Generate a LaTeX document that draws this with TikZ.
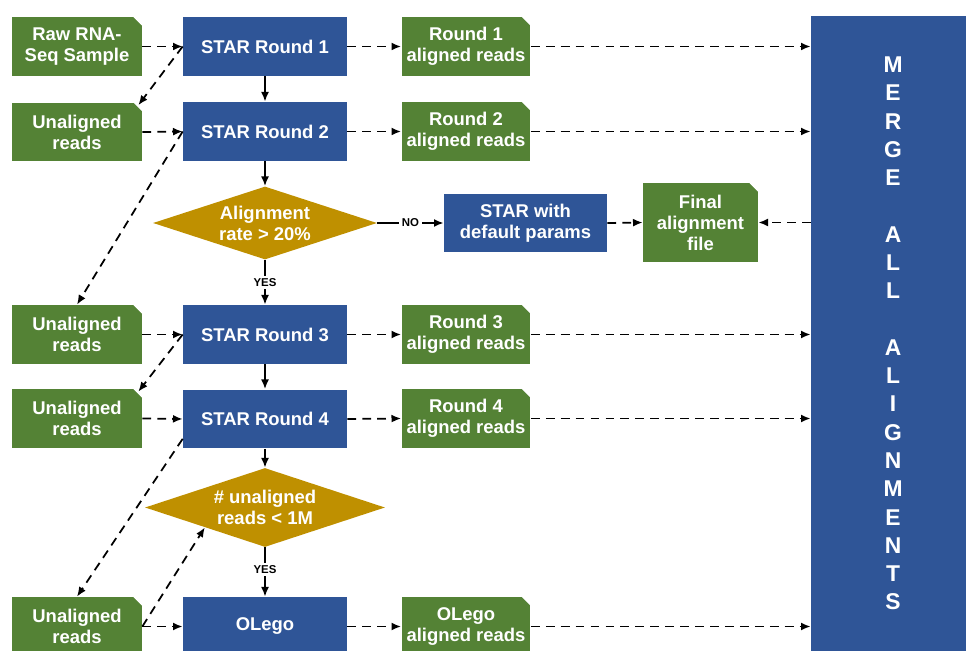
\documentclass[tikz,border=0pt]{standalone}
\usepackage{fontspec}
\setmainfont{Liberation Sans}
\usetikzlibrary{arrows.meta, shapes.geometric}

\definecolor{starblue}{HTML}{2F5597}
\definecolor{filegreen}{HTML}{548235}
\definecolor{testgold}{HTML}{BF9000}
\newcommand{\boxfont}{\bfseries\fontsize{10.5}{12}\selectfont}

\begin{document}
\begin{tikzpicture}[
        x=0.02cm, y=-0.02cm,
        process/.style={rectangle, fill=starblue, text=white, font=\boxfont, align=center,
            minimum width=3.28cm, minimum height=1.18cm, inner sep=0pt},
        datafile/.style={rectangle, fill=filegreen, text=white, font=\boxfont, align=center,
            minimum width=2.6cm, minimum height=1.18cm, inner sep=0pt,
            path picture={\fill[white] ([xshift=-0.17cm]path picture bounding box.north east)
                -- (path picture bounding box.north east)
                -- ([yshift=-0.17cm]path picture bounding box.north east) -- cycle;}},
        decision/.style={diamond, aspect=3, fill=testgold, text=white, font=\boxfont,
            align=center, inner sep=0pt},
        flow/.style={-{Latex[length=5.5pt,width=4.5pt]}, line width=1pt},
        dataflow/.style={flow, dash pattern=on 5pt off 3.5pt},
        answer/.style={fill=white, text=black, font=\bfseries\fontsize{6.5}{7}\selectfont, inner sep=1.5pt}
    ]
        \clip (0,0) rectangle (966,651);

        % Merge column on the right
        \node[process, minimum height=12.7cm, font=\bfseries\fontsize{13}{16.1}\selectfont] (merge) at (893,333.5)
            {M\\E\\R\\G\\E\\~\\A\\L\\L\\~\\A\\L\\I\\G\\N\\M\\E\\N\\T\\S};

        % Rounds 1 and 2
        \node[datafile] (raw) at (77,46.5) {Raw RNA-\\Seq Sample};
        \node[process] (star1) at (265,46.5) {STAR Round 1};
        \node[datafile, minimum width=2.58cm] (al1) at (466,46.5) {Round 1\\aligned reads};

        \node[datafile] (un2) at (77,132) {Unaligned\\reads};
        \node[process] (star2) at (265,131.5) {STAR Round 2};
        \node[datafile, minimum width=2.58cm] (al2) at (466,131.5) {Round 2\\aligned reads};

        % First check
        \node[decision, minimum width=4.48cm, minimum height=1.46cm] (dec1) at (265,223) {Alignment\\rate > 20\%};
        \node[process, minimum width=3.26cm, minimum height=1.16cm] (stardef) at (525.5,223) {STAR with\\default params};
        \node[datafile, minimum width=2.3cm, minimum height=1.58cm] (final) at (700.5,222.5) {Final\\alignment\\file};

        % Rounds 3 and 4
        \node[datafile] (un3) at (77,334.5) {Unaligned\\reads};
        \node[process] (star3) at (265,334.5) {STAR Round 3};
        \node[datafile, minimum width=2.58cm] (al3) at (466,334.5) {Round 3\\aligned reads};

        \node[datafile] (un4) at (77,418.5) {Unaligned\\reads};
        \node[process] (star4) at (265,419) {STAR Round 4};
        \node[datafile, minimum width=2.58cm] (al4) at (466,418.5) {Round 4\\aligned reads};

        % Second check and OLego
        \node[decision, minimum width=4.8cm, minimum height=1.58cm] (dec2) at (265,507.5) {\# unaligned\\reads < 1M};

        \node[datafile] (un5) at (77,626.5) {Unaligned\\reads};
        \node[process] (olego) at (265,626.5) {OLego};
        \node[datafile, minimum width=2.58cm] (alo) at (466,626.5) {OLego\\aligned reads};

        % Main flow
        \draw[flow] (star1) -- (star2);
        \draw[flow] (star2) -- (dec1);
        \draw[flow] (dec1.south) -- node[answer] (yes1) {YES} (star3.north);
        \draw[flow] (dec1.east) -- node[answer] (no1) {NO} (stardef.west);
        \draw[flow] (star3) -- (star4);
        \draw[flow] (star4) -- (dec2);
        \draw[flow] (dec2.south) -- node[answer, yshift=1.5pt] (yes2) {YES} (olego.north);

        % Reads into each round
        \draw[dataflow] (raw.east) -- (star1.west);
        \draw[dataflow] (un2.east) -- (star2.west);
        \draw[dataflow] (un3.east) -- (star3.west);
        \draw[dataflow] (un4.east) -- (star4.west);
        \draw[dataflow] (un5.east) -- (olego.west);

        % Unaligned reads passed on
        \draw[dataflow] (star1.west) -- ([shift={(-4,3)}]un2.north east);
        \draw[dataflow] (star2.west) -- (un3.north);
        \draw[dataflow] (star3.west) -- ([shift={(-4,3)}]un4.north east);
        \draw[dataflow] ([yshift=0.2cm]star4.south west) -- (un5.north);
        \draw[dataflow] (un5.east) -- (dec2.south west);

        % Aligned reads
        \foreach \n in {1,2,3,4} {
            \draw[dataflow] (star\n.east) -- (al\n.west);
            \draw[dataflow] (al\n.east) -- (al\n.east -| merge.west);
        }
        \draw[dataflow] (olego.east) -- (alo.west);
        \draw[dataflow] (alo.east) -- (alo.east -| merge.west);
        \draw[dataflow] (stardef.east) -- (final.west);
        \draw[dataflow] (merge.west |- final.east) -- (final.east);
    \end{tikzpicture}
\end{document}
